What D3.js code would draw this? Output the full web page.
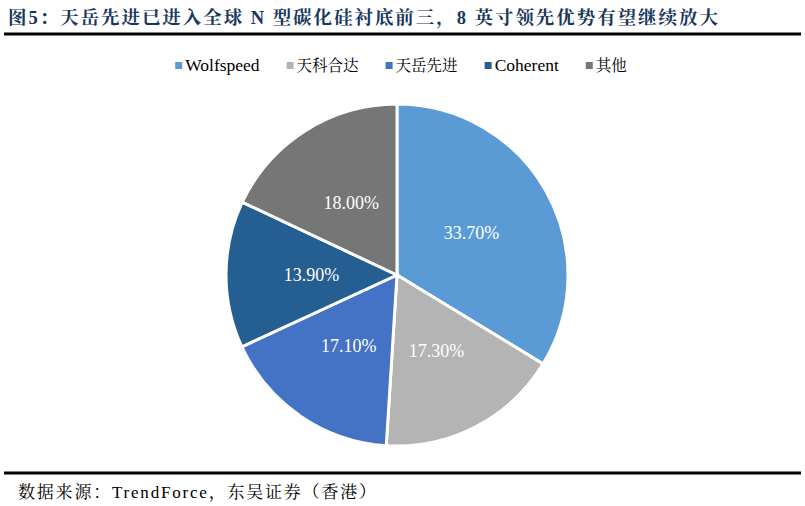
<!DOCTYPE html>
<html><head><meta charset="utf-8">
<script src="https://cdn.jsdelivr.net/npm/d3@7/dist/d3.min.js"></script>
<style>
body{margin:0;background:#fff;}
svg{display:block;}
svg text{font-family:"Liberation Serif","Times New Roman","Noto Serif CJK SC","Noto Sans CJK SC",serif;}
</style></head>
<body>
<svg id="chart" width="805" height="506"></svg>
<script>
const categories = ["Wolfspeed","天科合达","天岳先进","Coherent","其他"];
const values = [33.7,17.3,17.1,13.9,18.0];
const labels = ["33.70%","17.30%","17.10%","13.90%","18.00%"];
const colors = ["#5B9BD5","#B4B4B4","#4472C4","#255E91","#767676"];
const titleText = "图5：天岳先进已进入全球 N 型碳化硅衬底前三，8 英寸领先优势有望继续放大";
const sourceText = "数据来源：TrendForce，东吴证券（香港）";

const svg = d3.select("#chart");

svg.append("text").attr("x",8).attr("y",24)
  .attr("font-weight","bold").attr("font-size",18.5).attr("fill","#17375E")
  .attr("textLength",710).attr("lengthAdjust","spacing").text(titleText);
svg.append("rect").attr("x",4).attr("y",32.5).attr("width",797).attr("height",3).attr("fill","#000");
svg.append("rect").attr("x",4).attr("y",471.5).attr("width",797).attr("height",3).attr("fill","#000");
svg.append("text").attr("x",18).attr("y",498)
  .attr("font-size",17).attr("fill","#000")
  .attr("textLength",358).attr("lengthAdjust","spacing").text(sourceText);

// legend
const lg = svg.append("g");
let x = 0;
const gap = 27;
categories.forEach((c,i)=>{
  const g = lg.append("g");
  g.append("rect").attr("x",0).attr("y",-9).attr("width",7).attr("height",7).attr("fill",colors[i]);
  const isCJK = /[\u4e00-\u9fff]/.test(c);
  const t = g.append("text").attr("x",10).attr("y",0).attr("font-size",isCJK?15.5:17.5).attr("fill","#000").text(c);
  const w = 10 + t.node().getComputedTextLength();
  g.attr("transform",`translate(${x},0)`);
  x += w + gap;
});
const totalW = x - gap;
lg.attr("transform",`translate(${401 - totalW/2},71)`);

// pie
const cx = 397, cy = 275, r = 171;
const pie = d3.pie().sort(null).value(d=>d)(values);
const arc = d3.arc().innerRadius(0).outerRadius(r);
const labelArc = d3.arc().innerRadius(r*0.5).outerRadius(r*0.5);
const pg = svg.append("g").attr("transform",`translate(${cx},${cy})`);
pg.selectAll("path").data(pie).join("path")
  .attr("d",arc).attr("fill",(d,i)=>colors[i]).attr("stroke","#fff").attr("stroke-width",3).attr("stroke-linejoin","miter");
pg.selectAll("text").data(pie).join("text")
  .attr("transform",d=>`translate(${labelArc.centroid(d)})`)
  .attr("text-anchor","middle").attr("dy","0.35em")
  .attr("font-size",18).attr("fill","#fff")
  .text((d,i)=>labels[i]);
</script>
</body></html>
